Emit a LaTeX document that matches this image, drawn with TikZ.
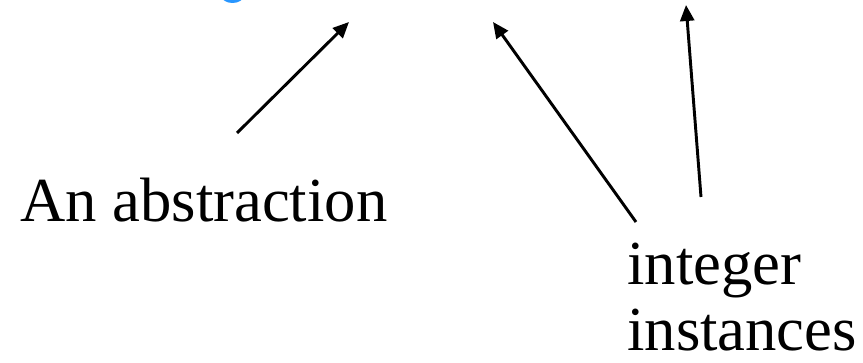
\documentclass[tikz,border=0pt]{standalone}
\usepackage{fontspec}
\setmainfont{Liberation Serif}
\usetikzlibrary{arrows.meta}
\definecolor{titleblue}{RGB}{40,150,255}
\begin{document}
\begin{tikzpicture}[x=0.75pt,y=-0.75pt,
  label/.style={anchor=base west,inner sep=0pt,font=\fontsize{47}{53}\selectfont},
  pointer/.style={line width=2.2pt,-{Triangle[length=12pt,width=10.5pt]}}]
  \useasboundingbox (0,0) rectangle (863,363);
  % tail of a blue glyph running off the top edge
  \begin{scope}
    \clip (0,0) rectangle (863,363);
    \fill[titleblue] (232.5,-4) ellipse [x radius=11, y radius=7];
  \end{scope}
  % labels
  \node[label] (abs) at (20,222) {An abstraction};
  \node[label] (int) at (627,284) {integer};
  \node[label] (ins) at (627,350) {instances};
  % arrow ends
  \coordinate (a1s) at (237,133);
  \coordinate (a1t) at (349,22);
  \coordinate (a2s) at (636,222);
  \coordinate (a2t) at (493,22);
  \coordinate (a3s) at (701,197);
  \coordinate (a3t) at (686,5);
  \draw[pointer] (a1s) -- (a1t);
  \draw[pointer] (a2s) -- (a2t);
  \draw[pointer] (a3s) -- (a3t);
\end{tikzpicture}
\end{document}
